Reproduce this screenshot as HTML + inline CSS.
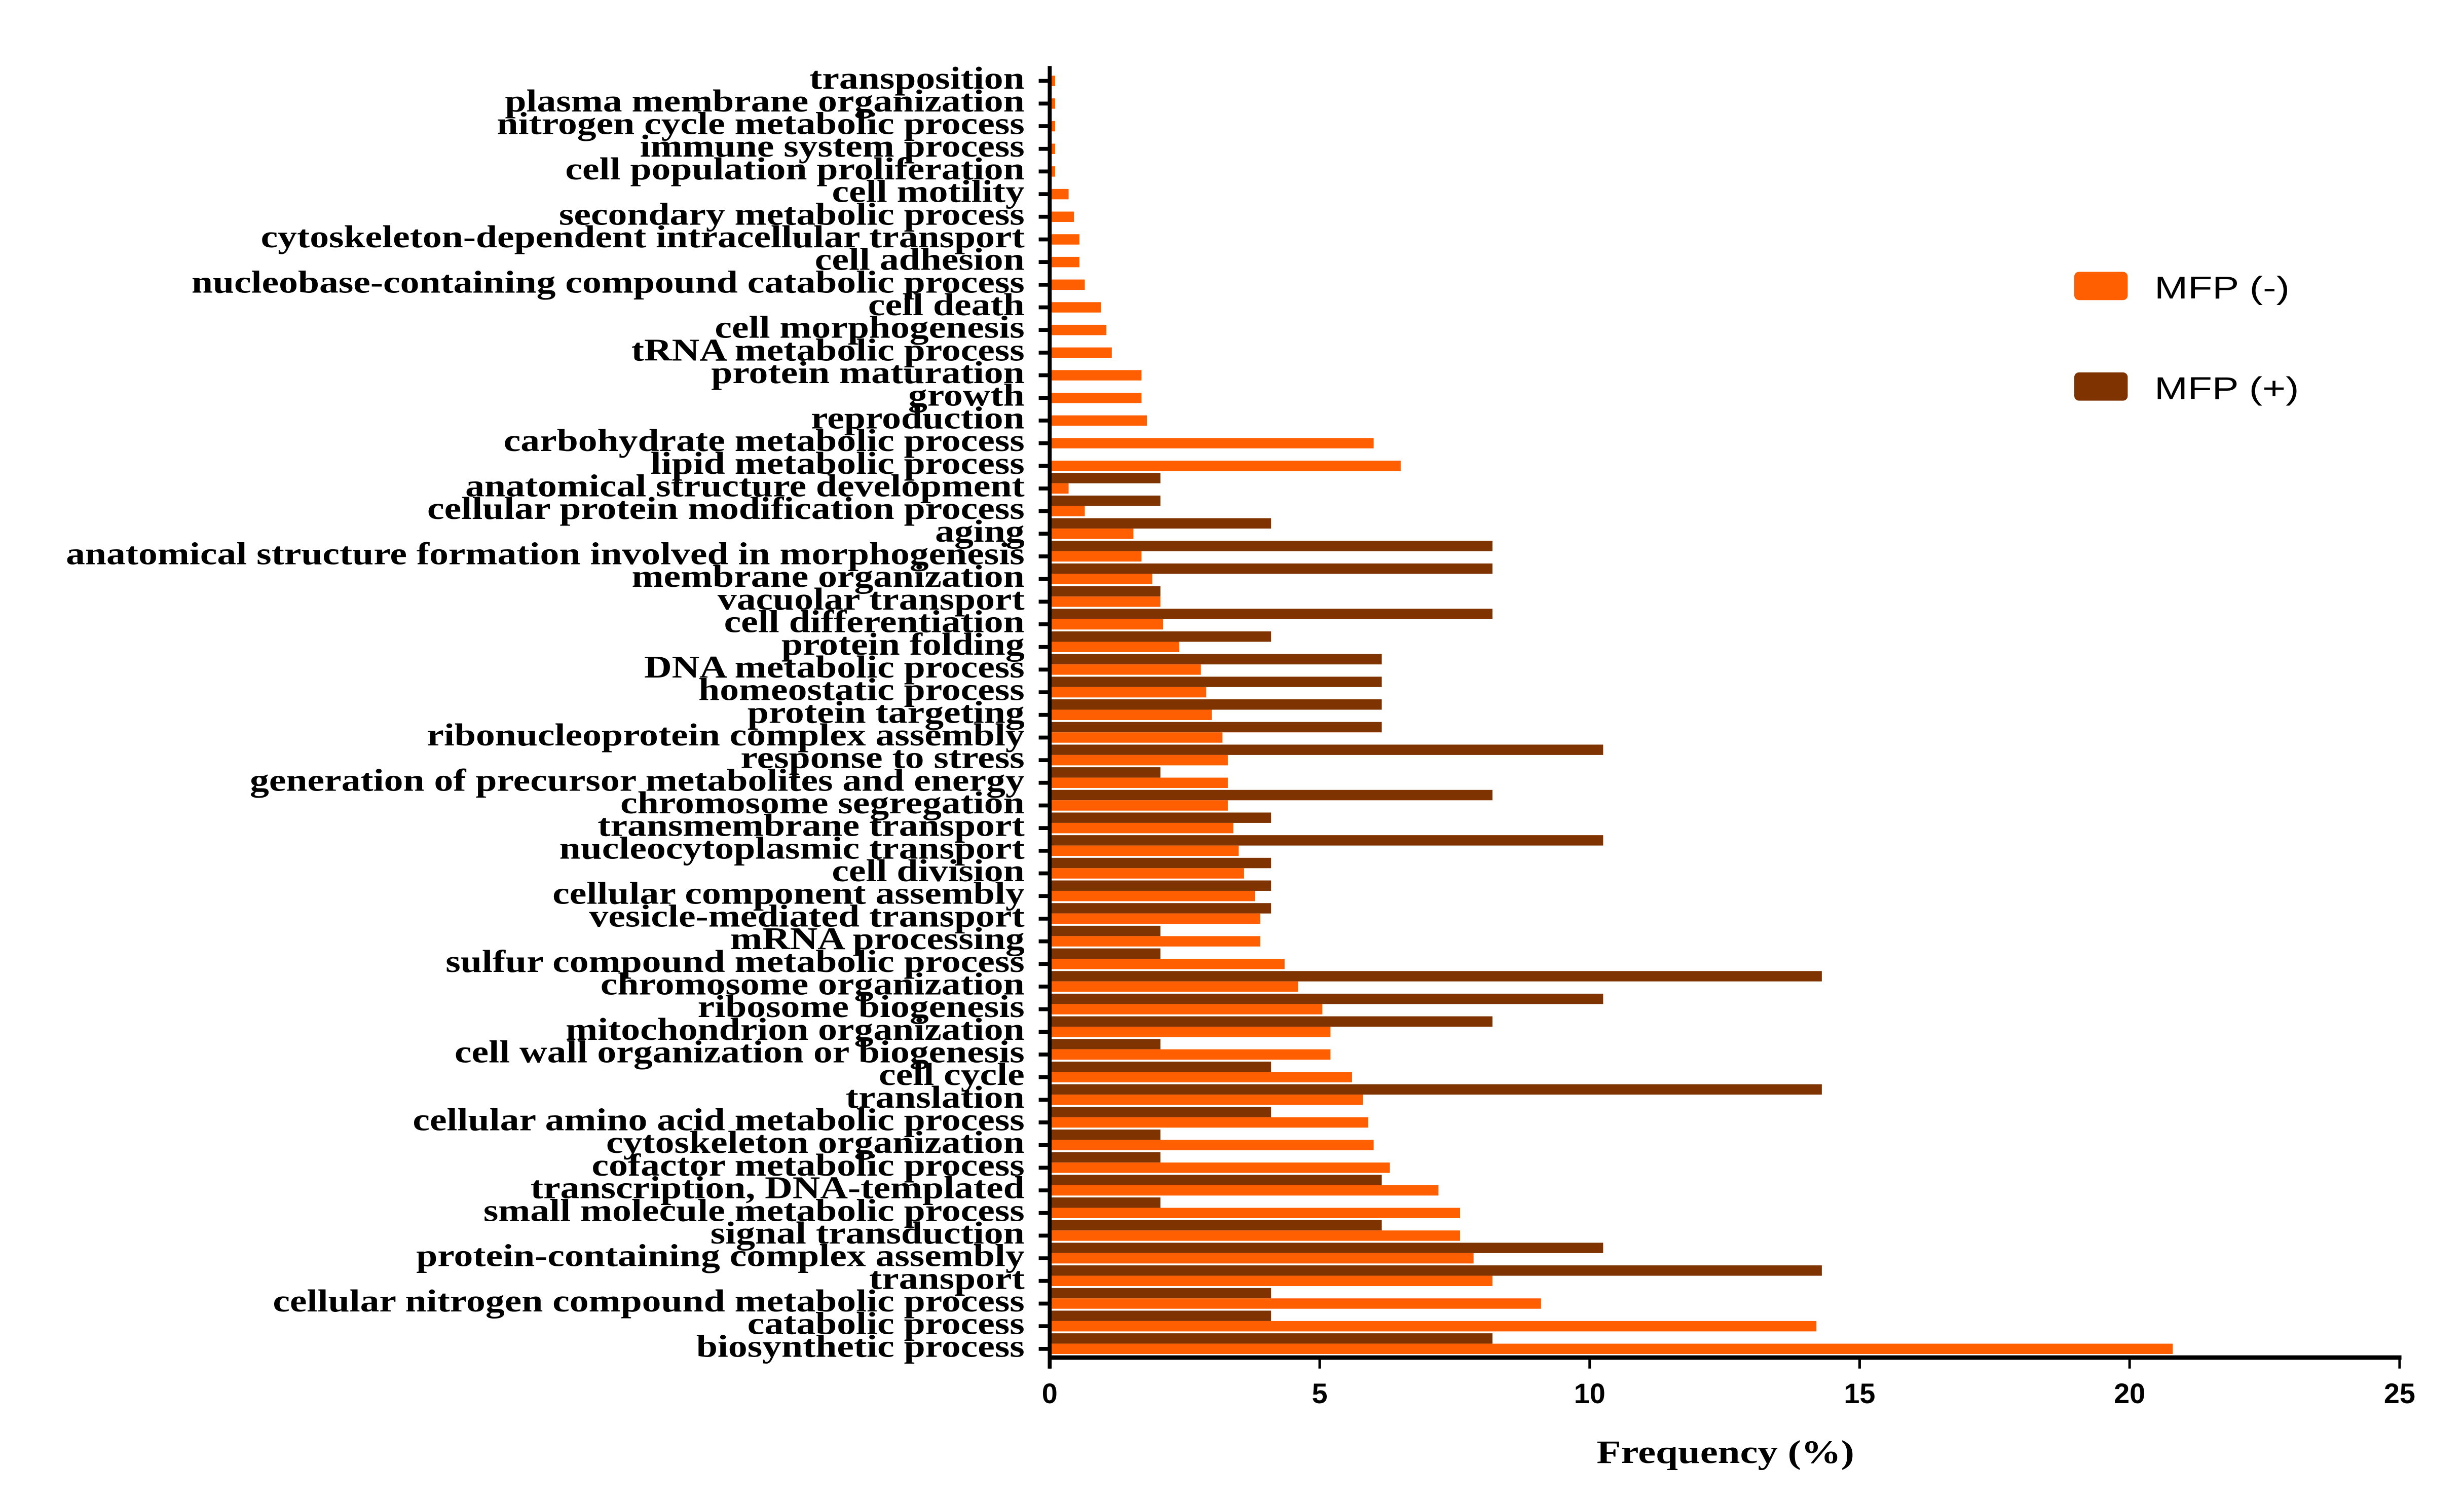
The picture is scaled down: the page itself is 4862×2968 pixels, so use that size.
<!DOCTYPE html>
<html>
<head>
<meta charset="utf-8">
<style>
  html,body{margin:0;padding:0;background:#ffffff;}
  svg{display:block;}
</style>
</head>
<body>
<svg id="chart" width="4862" height="2968" viewBox="0 0 1568 957.2" preserveAspectRatio="none" xmlns="http://www.w3.org/2000/svg">
  <rect x="0" y="0" width="1568" height="957.2" fill="#ffffff"/>
  <g id="bars"></g>
  <g id="ylabels"></g>
  <g id="axes"></g>
  <text x="1098" y="931" text-anchor="middle" font-family="'Liberation Serif', serif" font-weight="bold" font-size="21" textLength="164" lengthAdjust="spacingAndGlyphs" fill="#000">Frequency (%)</text>
  <g>
    <rect x="1320" y="173" width="34" height="18" rx="3" fill="#FF5F00"/>
    <text x="1371" y="190" font-family="'Liberation Sans', sans-serif" font-size="20" textLength="86" lengthAdjust="spacingAndGlyphs" fill="#000">MFP (-)</text>
    <rect x="1320" y="237" width="34" height="18" rx="3" fill="#7F3300"/>
    <text x="1371" y="254" font-family="'Liberation Sans', sans-serif" font-size="20" textLength="92" lengthAdjust="spacingAndGlyphs" fill="#000">MFP (+)</text>
  </g>
</svg>
<script>
const categories = ["transposition","plasma membrane organization","nitrogen cycle metabolic process","immune system process","cell population proliferation","cell motility","secondary metabolic process","cytoskeleton-dependent intracellular transport","cell adhesion","nucleobase-containing compound catabolic process","cell death","cell morphogenesis","tRNA metabolic process","protein maturation","growth","reproduction","carbohydrate metabolic process","lipid metabolic process","anatomical structure development","cellular protein modification process","aging","anatomical structure formation involved in morphogenesis","membrane organization","vacuolar transport","cell differentiation","protein folding","DNA metabolic process","homeostatic process","protein targeting","ribonucleoprotein complex assembly","response to stress","generation of precursor metabolites and energy","chromosome segregation","transmembrane transport","nucleocytoplasmic transport","cell division","cellular component assembly","vesicle-mediated transport","mRNA processing","sulfur compound metabolic process","chromosome organization","ribosome biogenesis","mitochondrion organization","cell wall organization or biogenesis","cell cycle","translation","cellular amino acid metabolic process","cytoskeleton organization","cofactor metabolic process","transcription, DNA-templated","small molecule metabolic process","signal transduction","protein-containing complex assembly","transport","cellular nitrogen compound metabolic process","catabolic process","biosynthetic process"];
const mfpMinus = [0.1,0.1,0.1,0.1,0.1,0.35,0.45,0.55,0.55,0.65,0.95,1.05,1.15,1.7,1.7,1.8,6.0,6.5,0.35,0.65,1.55,1.7,1.9,2.05,2.1,2.4,2.8,2.9,3.0,3.2,3.3,3.3,3.3,3.4,3.5,3.6,3.8,3.9,3.9,4.35,4.6,5.05,5.2,5.2,5.6,5.8,5.9,6.0,6.3,7.2,7.6,7.6,7.85,8.2,9.1,14.2,20.8];
const mfpPlus = [0,0,0,0,0,0,0,0,0,0,0,0,0,0,0,0,0,0,2.05,2.05,4.1,8.2,8.2,2.05,8.2,4.1,6.15,6.15,6.15,6.15,10.25,2.05,8.2,4.1,10.25,4.1,4.1,4.1,2.05,2.05,14.3,10.25,8.2,2.05,4.1,14.3,4.1,2.05,2.05,6.15,2.05,6.15,10.25,14.3,4.1,4.1,8.2];
const xTicks = [0,5,10,15,20,25];
const xTickLabels = ["0","5","10","15","20","25"];

const NS = "http://www.w3.org/2000/svg";
const X0 = 668, X1 = 1527, XMAX = 25;
const Y0 = 51.5, STEP = 14.41, BH = 6.6;
function xScale(v){ return X0 + (v / XMAX) * (X1 - X0); }
function yRow(i){ return Y0 + i * STEP; }
function mk(tag, attrs){ const e = document.createElementNS(NS, tag); for (const k in attrs) e.setAttribute(k, attrs[k]); return e; }

const barsG = document.getElementById('bars');
const labG = document.getElementById('ylabels');
const axG = document.getElementById('axes');

categories.forEach((c, i) => {
  const yc = yRow(i);
  if (mfpPlus[i] > 0) {
    const b = mk('rect', {x: X0, y: yc - 3.3 - BH, width: xScale(mfpPlus[i]) - X0, height: BH, fill: '#7F3300'});
    
    
    barsG.appendChild(b);
  }
  const o = mk('rect', {x: X0, y: yc - 3.3, width: Math.max(xScale(mfpMinus[i]) - X0, 0), height: BH, fill: '#FF5F00'});
  
  
  barsG.appendChild(o);

  const g = mk('g', {transform: 'translate(652,' + (yc + 5) + ') scale(1.22,1)'});
  const t = mk('text', {x: 0, y: 0, 'text-anchor': 'end', 'font-family': "'Liberation Serif', serif", 'font-weight': 'bold', 'font-size': 20, fill: '#000'});
  t.textContent = c;
  
  
  g.appendChild(t);
  labG.appendChild(g);

  const tk = mk('line', {x1: 661, x2: 668, y1: yc, y2: yc, stroke: '#000', 'stroke-width': 2.5});
  
  
  axG.appendChild(tk);
});

const yAxis = mk('line', {x1: X0, x2: X0, y1: 42, y2: 871, stroke: '#000', 'stroke-width': 2.5});


axG.appendChild(yAxis);
const xAxis = mk('line', {x1: X0 - 1, x2: X1 + 1.2, y1: 864, y2: 864, stroke: '#000', 'stroke-width': 2.8});


axG.appendChild(xAxis);

xTicks.forEach((v, i) => {
  const x = xScale(v);
  const l = mk('line', {x1: x, x2: x, y1: 864, y2: 871, stroke: '#000', 'stroke-width': 1.6});
  
  
  axG.appendChild(l);
  const t = mk('text', {x: x, y: 893, 'text-anchor': 'middle', 'font-family': "'Liberation Sans', sans-serif", 'font-weight': 'bold', 'font-size': 18, fill: '#000'});
  t.textContent = xTickLabels[i];
  
  
  axG.appendChild(t);
});
</script>
</body>
</html>
